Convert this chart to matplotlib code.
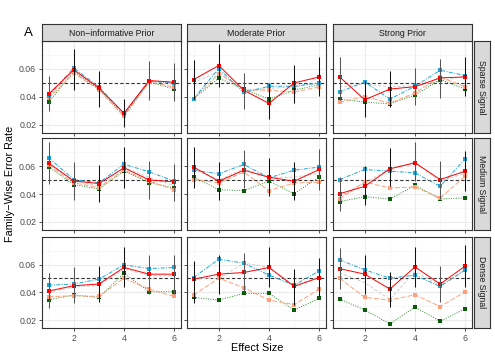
import matplotlib
matplotlib.use("Agg")
import matplotlib.pyplot as plt

plt.rcParams['font.family'] = ['Liberation Sans', 'DejaVu Sans']

effect_size = [1, 2, 3, 4, 5, 6]
priors = ["Non\u2212informative Prior", "Moderate Prior", "Strong Prior"]
signals = ["Sparse Signal", "Medium Signal", "Dense Signal"]

# series values [row][col] -> 6 values
red = [
    [[0.0419, 0.0593, 0.0463, 0.0282, 0.0516, 0.0504],
     [0.0523, 0.0624, 0.0446, 0.0352, 0.0499, 0.0542],
     [0.0542, 0.0378, 0.0455, 0.0472, 0.0535, 0.0542]],
    [[0.0622, 0.0494, 0.0475, 0.0588, 0.0501, 0.0487],
     [0.0593, 0.0492, 0.0571, 0.0520, 0.0492, 0.0576],
     [0.0402, 0.0455, 0.0581, 0.0624, 0.0504, 0.0564]],
    [[0.0410, 0.0448, 0.0460, 0.0579, 0.0531, 0.0531],
     [0.0495, 0.0531, 0.0543, 0.0579, 0.0443, 0.0507],
     [0.0571, 0.0531, 0.0424, 0.0583, 0.0460, 0.0590]],
]
blue = [
    [[0.0407, 0.0607, 0.0470, 0.0277, 0.0511, 0.0499],
     [0.0386, 0.0602, 0.0431, 0.0475, 0.0475, 0.0499],
     [0.0434, 0.0506, 0.0383, 0.0475, 0.0590, 0.0552]],
    [[0.0660, 0.0504, 0.0480, 0.0614, 0.0559, 0.0492],
     [0.0571, 0.0545, 0.0612, 0.0516, 0.0571, 0.0593],
     [0.0504, 0.0576, 0.0564, 0.0552, 0.0455, 0.0653]],
    [[0.0452, 0.0460, 0.0495, 0.0598, 0.0571, 0.0579],
     [0.0507, 0.0638, 0.0610, 0.0524, 0.0452, 0.0555],
     [0.0633, 0.0562, 0.0502, 0.0524, 0.0443, 0.0562]],
]
orange = [
    [[0.0388, 0.0570, 0.0450, 0.0258, 0.0504, 0.0470],
     [0.0386, 0.0566, 0.0450, 0.0446, 0.0434, 0.0470],
     [0.0361, 0.0400, 0.0354, 0.0427, 0.0542, 0.0470]],
    [[0.0607, 0.0480, 0.0446, 0.0571, 0.0492, 0.0431],
     [0.0504, 0.0480, 0.0557, 0.0424, 0.0480, 0.0484],
     [0.0366, 0.0487, 0.0443, 0.0451, 0.0371, 0.0528]],
    [[0.0369, 0.0376, 0.0371, 0.0502, 0.0424, 0.0371],
     [0.0381, 0.0502, 0.0433, 0.0345, 0.0312, 0.0424],
     [0.0502, 0.0364, 0.0345, 0.0383, 0.0298, 0.0405]],
]
green = [
    [[0.0361, 0.0580, 0.0455, 0.0263, 0.0506, 0.0455],
     [0.0386, 0.0533, 0.0455, 0.0383, 0.0446, 0.0487],
     [0.0383, 0.0361, 0.0349, 0.0412, 0.0523, 0.0455]],
    [[0.0595, 0.0467, 0.0436, 0.0564, 0.0482, 0.0443],
     [0.0523, 0.0431, 0.0424, 0.0492, 0.0402, 0.0523],
     [0.0345, 0.0381, 0.0364, 0.0463, 0.0364, 0.0373]],
    [[0.0348, 0.0381, 0.0364, 0.0538, 0.0405, 0.0405],
     [0.0364, 0.0345, 0.0393, 0.0393, 0.0274, 0.0357],
     [0.0352, 0.0274, 0.0174, 0.0295, 0.0193, 0.0283]],
]
gray = [
    [[0.0400, 0.0590, 0.0460, 0.0270, 0.0510, 0.0490],
     [0.0500, 0.0580, 0.0440, 0.0460, 0.0470, 0.0500],
     [0.0470, 0.0490, 0.0470, 0.0480, 0.0510, 0.0550]],
    [[0.0630, 0.0490, 0.0460, 0.0590, 0.0520, 0.0460],
     [0.0580, 0.0500, 0.0580, 0.0520, 0.0520, 0.0550],
     [0.0380, 0.0480, 0.0580, 0.0630, 0.0490, 0.0550]],
    [[0.0400, 0.0440, 0.0450, 0.0570, 0.0520, 0.0520],
     [0.0500, 0.0500, 0.0610, 0.0580, 0.0450, 0.0510],
     [0.0540, 0.0470, 0.0350, 0.0550, 0.0450, 0.0560]],
]
err_low = [
    [[0.0294, 0.0446, 0.0323, 0.0180, 0.0376, 0.0366],
     [0.0386, 0.0470, 0.0313, 0.0239, 0.0354, 0.0402],
     [0.0378, 0.0253, 0.0325, 0.0340, 0.0390, 0.0402]],
    [[0.0470, 0.0354, 0.0340, 0.0443, 0.0366, 0.0347],
     [0.0443, 0.0354, 0.0443, 0.0383, 0.0359, 0.0427],
     [0.0280, 0.0323, 0.0455, 0.0492, 0.0366, 0.0419]],
    [[0.0290, 0.0321, 0.0333, 0.0436, 0.0388, 0.0388],
     [0.0324, 0.0388, 0.0412, 0.0436, 0.0312, 0.0371],
     [0.0424, 0.0388, 0.0298, 0.0436, 0.0329, 0.0440]],
]
err_high = [
    [[0.0550, 0.0745, 0.0586, 0.0386, 0.0653, 0.0643],
     [0.0660, 0.0776, 0.0571, 0.0499, 0.0631, 0.0687],
     [0.0687, 0.0511, 0.0588, 0.0607, 0.0672, 0.0687]],
    [[0.0776, 0.0629, 0.0605, 0.0740, 0.0638, 0.0619],
     [0.0740, 0.0629, 0.0716, 0.0660, 0.0629, 0.0720],
     [0.0523, 0.0600, 0.0728, 0.0776, 0.0636, 0.0706]],
    [[0.0536, 0.0579, 0.0590, 0.0726, 0.0667, 0.0669],
     [0.0626, 0.0667, 0.0681, 0.0726, 0.0567, 0.0645],
     [0.0717, 0.0667, 0.0548, 0.0726, 0.0590, 0.0738]],
]
# 1 = darker bar, 0 = lighter bar
err_dark = [
    [[0, 1, 1, 1, 0, 0], [1, 1, 0, 1, 1, 1], [0, 1, 1, 0, 0, 1]],
    [[0, 0, 1, 1, 0, 0], [1, 1, 0, 1, 1, 0], [0, 1, 1, 0, 0, 1]],
    [[0, 0, 1, 1, 0, 0], [1, 1, 0, 1, 1, 1], [0, 1, 1, 1, 0, 1]],
]
ref_level = 0.05

W, H = 495, 360
fig = plt.figure(figsize=(W / 100, H / 100), dpi=100)

col_left = [41.7, 186.7, 332.7]
col_w = 139.5
row_top = [41.0, 138.3, 236.7]
row_h = 91.5
strip_h = 17.0
strip_w = 16.5

styles = [
    (gray, "#CCCCCC", (0, (3, 2)), None),
    (green, "#2E8B2E", (0, (1, 1.5)), "#0A5A0A"),
    (orange, "#FFA07A", (0, (5, 2)), "#FFA07A"),
    (blue, "#1FA5D8", (0, (4, 1.5, 1, 1.5)), "#1FA5D8"),
    (red, "#FF0000", "-", "#FF0000"),
]

tick_color = "#4D4D4D"
for r in range(3):
    for c in range(3):
        left = col_left[c] / W
        bottom = 1 - (row_top[r] + row_h) / H
        ax = fig.add_axes([left, bottom, col_w / W, row_h / H])
        ax.set_xlim(0.725, 6.275)
        ax.set_ylim(0.0143, 0.0800)
        ax.set_xticks([2, 4, 6])
        ax.set_xticks([1, 3, 5], minor=True)
        ax.set_yticks([0.02, 0.04, 0.06])
        ax.set_yticks([0.03, 0.05, 0.07], minor=True)
        ax.grid(True, which="major", color="#EBEBEB", lw=0.8)
        ax.grid(True, which="minor", color="#F4F4F4", lw=0.5)
        ax.set_axisbelow(True)
        for s in ax.spines.values():
            s.set_color("#333333")
            s.set_linewidth(0.8)
        ax.tick_params(which="minor", length=0)
        ax.tick_params(which="major", length=2.5, width=0.6, color="#333333",
                       labelsize=6.3, labelcolor=tick_color, pad=1.5)
        if c == 0:
            ax.set_yticklabels(["0.02", "0.04", "0.06"])
        else:
            ax.set_yticklabels([])
        if r == 2:
            ax.set_xticklabels(["2", "4", "6"])
        else:
            ax.set_xticklabels([])

        ax.axhline(ref_level, color="#333333", lw=0.8, ls=(0, (3, 2)), zorder=2)
        for data, col, ls, mc in styles:
            ax.plot(effect_size, data[r][c], color=col, ls=ls, lw=0.7, zorder=3)
            if mc is not None:
                ax.plot(effect_size, data[r][c], ls="none", marker="s",
                        ms=2.3, color=mc, mec=mc, mew=0, zorder=4)
        for i, x in enumerate(effect_size):
            ecol = "#111111" if err_dark[r][c][i] else "#555555"
            ax.vlines(x, err_low[r][c][i], err_high[r][c][i], color=ecol,
                      lw=0.75, zorder=5)

        if r == 0:
            sax = fig.add_axes([left, 1 - row_top[r] / H, col_w / W, strip_h / H])
            sax.set_xticks([]); sax.set_yticks([])
            sax.set_facecolor("#D9D9D9")
            for s in sax.spines.values():
                s.set_color("#333333"); s.set_linewidth(0.8)
            sax.text(0.5, 0.47, priors[c], ha="center", va="center",
                     fontsize=6.3, color="#1A1A1A", transform=sax.transAxes)
        if c == 2:
            sl = (col_left[c] + col_w + 1.5) / W
            rax = fig.add_axes([sl, bottom, strip_w / W, row_h / H])
            rax.set_xticks([]); rax.set_yticks([])
            rax.set_facecolor("#D9D9D9")
            for s in rax.spines.values():
                s.set_color("#333333"); s.set_linewidth(0.8)
            rax.text(0.5, 0.5, signals[r], ha="center", va="center",
                     rotation=-90, fontsize=6.3, color="#1A1A1A",
                     transform=rax.transAxes)

fig.text(28 / W, 1 - 33 / H, "A", fontsize=9.5, ha="center", va="center")
fig.text(10 / W, 1 - 184 / H, "Family\u2212Wise Error Rate", rotation=90,
         fontsize=7.8, ha="center", va="center")
fig.text(257 / W, 1 - 348 / H, "Effect Size", fontsize=7.8,
         ha="center", va="center")

fig.savefig("out.png", dpi=100)
